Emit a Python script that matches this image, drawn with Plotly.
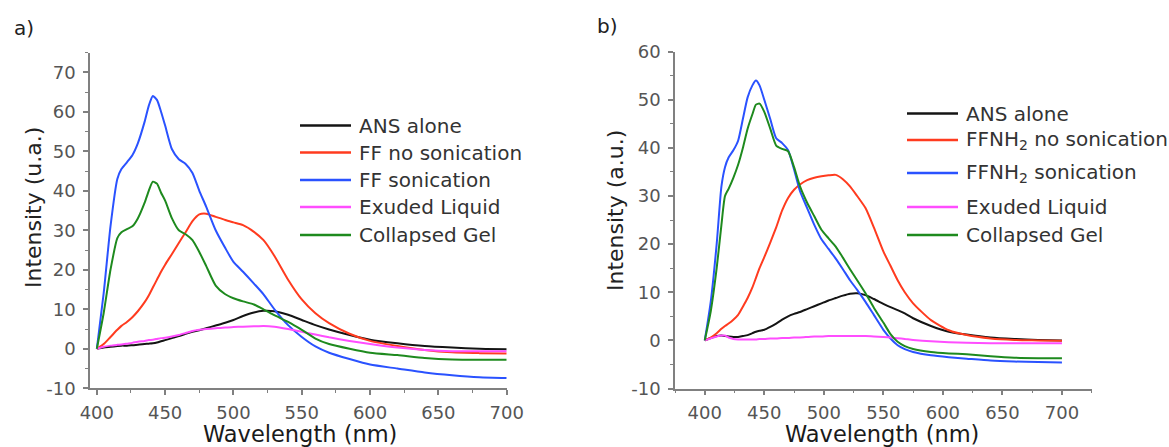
import plotly.graph_objects as go

W, H = 1169, 447

# ---------------- data: panel a ----------------
wl_a = [400, 405, 410, 415, 418, 422, 426, 430, 435, 438, 441, 444, 447, 450, 455, 460, 465, 470, 475, 480,
        487, 494, 500, 507, 515, 522, 530, 540, 550, 560, 570, 585, 600, 620, 640, 660, 680, 700]
ans_a = [0, 0.3, 0.5, 0.7, 0.8, 0.8, 0.9, 1.0, 1.2, 1.3, 1.4, 1.6, 1.9, 2.2, 2.7, 3.2, 3.8, 4.3, 4.7, 5.2,
         5.9, 6.6, 7.3, 8.3, 9.2, 9.6, 9.5, 8.6, 7.3, 6.0, 4.9, 3.5, 2.3, 1.4, 0.7, 0.3, 0.0, -0.1]
ff_nosonic_a = [0, 1.2, 3.0, 4.8, 5.8, 6.8, 8.0, 9.5, 11.8, 13.5, 15.5, 17.5, 19.5, 21.3, 24.0, 26.8, 29.5, 32.3, 34.0, 34.2,
                33.4, 32.6, 32.0, 31.3, 29.6, 27.5, 23.5, 17.5, 12.5, 9.0, 6.5, 3.8, 2.0, 0.7, -0.3, -0.9, -1.1, -1.2]
ff_sonic_a = [0, 14, 31, 43, 45.5, 47.2, 49, 52, 57.5, 61.5, 64, 63, 60, 56.5, 50.5, 48, 46.8, 44.5, 40, 36,
              30, 25.5, 22, 19.5, 16.5, 13.8, 10, 6, 3, 0.6, -1, -2.6, -4, -5, -6, -6.7, -7.2, -7.4]
exuded_a = [0, 0.5, 0.8, 1.0, 1.1, 1.3, 1.5, 1.8, 2.0, 2.2, 2.3, 2.5, 2.7, 2.8, 3.1, 3.5, 4.0, 4.5, 4.8, 5.0,
            5.2, 5.4, 5.5, 5.6, 5.7, 5.8, 5.6, 5.0, 4.3, 3.6, 2.9, 2.0, 1.2, 0.3, -0.3, -0.6, -0.6, -0.6]
gel_a = [0, 9, 20, 28, 29.5, 30.3, 31, 33, 37, 40, 42.3, 41.8, 39.5, 37.5, 33, 30, 29, 27.5, 24.5, 21,
         16, 13.8, 12.8, 12, 11.2, 10, 8.5, 6.8, 4.8, 2.6, 1.2, 0, -1, -1.6, -2.3, -2.7, -2.8, -2.8]
names_a = ["ANS alone", "FF no sonication", "FF sonication", "Exuded Liquid", "Collapsed Gel"]

# ---------------- data: panel b ----------------
wl_b = [400, 405, 410, 414, 417, 420, 424, 428, 432, 436, 440, 443, 446, 450, 455, 460, 465, 470, 475, 480,
        486, 492, 498, 504, 510, 516, 522, 528, 535, 542, 550, 556, 562, 568, 575, 590, 605, 620, 640, 660, 680, 700]
ans_b = [0, 0.5, 0.9, 1.0, 0.9, 0.8, 0.7, 0.7, 0.9, 1.1, 1.5, 1.8, 2.0, 2.2, 2.8, 3.5, 4.3, 5.0, 5.5, 5.9,
         6.5, 7.1, 7.7, 8.3, 8.8, 9.3, 9.7, 9.8, 9.4, 8.6, 7.6, 6.9, 6.3, 5.6, 4.6, 3.0, 1.8, 1.2, 0.6, 0.3, 0.1, 0.0]
ffnh2_nosonic_b = [0, 0.6, 1.5, 2.4, 3.0, 3.5, 4.3, 5.3, 7.0, 8.8, 11.0, 13.0, 15.0, 17.3, 20.3, 23.5, 27.0, 29.6, 31.3, 32.4,
                   33.3, 33.8, 34.1, 34.3, 34.4, 33.5, 32.0, 30.0, 27.5, 23.5, 18.5, 15.5, 12.5, 10.0, 7.7, 4.2, 2.1, 1.1, 0.4, 0.1, 0.0, -0.1]
ffnh2_sonic_b = [0, 8, 20, 32, 36, 38, 39.5, 41.5, 46, 50.5, 53, 54, 53, 50, 46, 42, 41, 39.5, 35.5, 31,
                 27.5, 24, 21, 19, 17, 14.8, 12.5, 10.5, 8, 5.3, 2.2, 0.4, -1.0, -1.8, -2.4, -3.1, -3.5, -3.8, -4.2, -4.4, -4.5, -4.6]
exuded_b = [0, 0.4, 0.8, 1.0, 1.0, 0.6, 0.3, 0.2, 0.2, 0.2, 0.2, 0.2, 0.3, 0.3, 0.4, 0.4, 0.5, 0.5, 0.6, 0.6,
            0.7, 0.8, 0.8, 0.9, 0.9, 0.9, 0.9, 0.9, 0.9, 0.8, 0.7, 0.6, 0.45, 0.3, 0.1, -0.2, -0.4, -0.5, -0.6, -0.6, -0.6, -0.6]
gel_b = [0, 6, 15, 24, 30, 31.5, 33.8, 36.5, 40, 44, 47, 49, 49.2, 47.5, 44, 40.5, 39.8, 39.3, 36, 32,
         28.6, 25.8, 23, 21.2, 19.5, 17.2, 14.8, 12.5, 9.8, 6.8, 3.7, 1.3, -0.3, -1.2, -1.8, -2.4, -2.7, -2.9, -3.3, -3.6, -3.7, -3.7]
names_b = ["ANS alone", "FFNH<sub>2</sub> no sonication", "FFNH<sub>2</sub> sonication", "Exuded Liquid", "Collapsed Gel"]

# tick labels
xticks = [400, 450, 500, 550, 600, 650, 700]
xtick_text = ["400", "450", "500", "550", "600", "650", "700"]
yticks_a = [-10, 0, 10, 20, 30, 40, 50, 60, 70]
ytick_text_a = ["-10", "0", "10", "20", "30", "40", "50", "60", "70"]
yticks_b = [-10, 0, 10, 20, 30, 40, 50, 60]
ytick_text_b = ["-10", "0", "10", "20", "30", "40", "50", "60"]

colors = ["#141414", "#ff3b1f", "#2a52ff", "#ff4dff", "#1e8a1e"]

FONT = "DejaVu Sans"

fig = go.Figure()

series_a = [ans_a, ff_nosonic_a, ff_sonic_a, exuded_a, gel_a]
series_b = [ans_b, ffnh2_nosonic_b, ffnh2_sonic_b, exuded_b, gel_b]

for vals, name, col in zip(series_a, names_a, colors):
    fig.add_trace(go.Scatter(x=wl_a, y=vals, mode="lines", name=name,
                             line=dict(color=col, width=2, shape="spline", smoothing=0.6),
                             xaxis="x", yaxis="y", showlegend=False))
for vals, name, col in zip(series_b, names_b, colors):
    fig.add_trace(go.Scatter(x=wl_b, y=vals, mode="lines", name=name,
                             line=dict(color=col, width=2, shape="spline", smoothing=0.6),
                             xaxis="x2", yaxis="y2", showlegend=False))


def px(x):
    return x / W


def py(y):
    return 1 - y / H


axcol = "#808080"
common = dict(showline=True, linecolor=axcol, linewidth=1.5, ticks="outside", ticklen=5,
              tickwidth=1.5, tickcolor=axcol, showgrid=False, zeroline=False, automargin=False,
              tickfont=dict(family=FONT, size=18, color="#555555"), tickmode="array")
minor_style = dict(ticks="outside", ticklen=3, tickcolor=axcol, tickwidth=1.2, tickmode="linear")

fig.update_layout(
    template="none",
    width=W, height=H,
    margin=dict(l=0, r=0, t=0, b=0, pad=0, autoexpand=False),
    paper_bgcolor="white", plot_bgcolor="white",
    showlegend=False,
    xaxis=dict(domain=[px(90), px(506.7)], range=[395, 700], anchor="y",
               tickvals=xticks, ticktext=xtick_text, ticklabelstandoff=2,
               minor=dict(tick0=400, dtick=25, **minor_style),
               **common),
    yaxis=dict(domain=[py(388.3), py(52.5)], range=[-10, 75], anchor="x",
               tickvals=yticks_a, ticktext=ytick_text_a, ticklabelstandoff=4,
               minor=dict(tick0=0, dtick=5, **minor_style),
               **common),
    xaxis2=dict(domain=[px(675), px(1091.7)], range=[375, 725], anchor="y2",
                tickvals=xticks, ticktext=xtick_text, ticklabelstandoff=2,
                minor=dict(tick0=375, dtick=50, **minor_style),
                **common),
    yaxis2=dict(domain=[py(388.5), py(51.7)], range=[-10, 60], anchor="x2",
                tickvals=yticks_b, ticktext=ytick_text_b, ticklabelstandoff=4,
                minor=dict(tick0=0, dtick=5, **minor_style),
                **common),
)

ann = []
shapes = []
# panel labels
ann.append(dict(text="a)", x=px(12), y=py(28), xref="paper", yref="paper", xanchor="left", yanchor="middle",
                showarrow=False, font=dict(family=FONT, size=20, color="#222")))
ann.append(dict(text="b)", x=px(595), y=py(26), xref="paper", yref="paper", xanchor="left", yanchor="middle",
                showarrow=False, font=dict(family=FONT, size=20, color="#222")))
# axis titles
ann.append(dict(text="Intensity (u.a.)", x=px(34), y=py(208), xref="paper", yref="paper", textangle=-90,
                xanchor="center", yanchor="middle", showarrow=False,
                font=dict(family=FONT, size=22, color="#222")))
ann.append(dict(text="Intensity (a.u.)", x=px(615), y=py(211), xref="paper", yref="paper", textangle=-90,
                xanchor="center", yanchor="middle", showarrow=False,
                font=dict(family=FONT, size=22, color="#222")))
ann.append(dict(text="Wavelength (nm)", x=px(300), y=py(433.5), xref="paper", yref="paper",
                xanchor="center", yanchor="middle", showarrow=False, borderpad=0,
                font=dict(family=FONT, size=22.5, color="#1a1a1a")))
ann.append(dict(text="Wavelength (nm)", x=px(882), y=py(433.5), xref="paper", yref="paper",
                xanchor="center", yanchor="middle", showarrow=False, borderpad=0,
                font=dict(family=FONT, size=22.5, color="#1a1a1a")))

# legends (manual)
rows_a = [125.5, 152.5, 180, 207, 235]
rows_b = [113.5, 140, 173, 207, 235]
for name, col, ry in zip(names_a, colors, rows_a):
    shapes.append(dict(type="line", xref="paper", yref="paper", x0=px(300), x1=px(351), y0=py(ry), y1=py(ry),
                       line=dict(color=col, width=2.5)))
    ann.append(dict(text=name, x=px(357), y=py(ry), xref="paper", yref="paper", xanchor="left",
                    yanchor="middle", showarrow=False, font=dict(family=FONT, size=20, color="#333")))
for name, col, ry in zip(names_b, colors, rows_b):
    shapes.append(dict(type="line", xref="paper", yref="paper", x0=px(907), x1=px(958), y0=py(ry), y1=py(ry),
                       line=dict(color=col, width=2.5)))
    ann.append(dict(text=name, x=px(964), y=py(ry), xref="paper", yref="paper", xanchor="left",
                    yanchor="middle", showarrow=False, font=dict(family=FONT, size=20, color="#333")))

fig.update_layout(annotations=ann, shapes=shapes)

fig.write_html("out.html")
